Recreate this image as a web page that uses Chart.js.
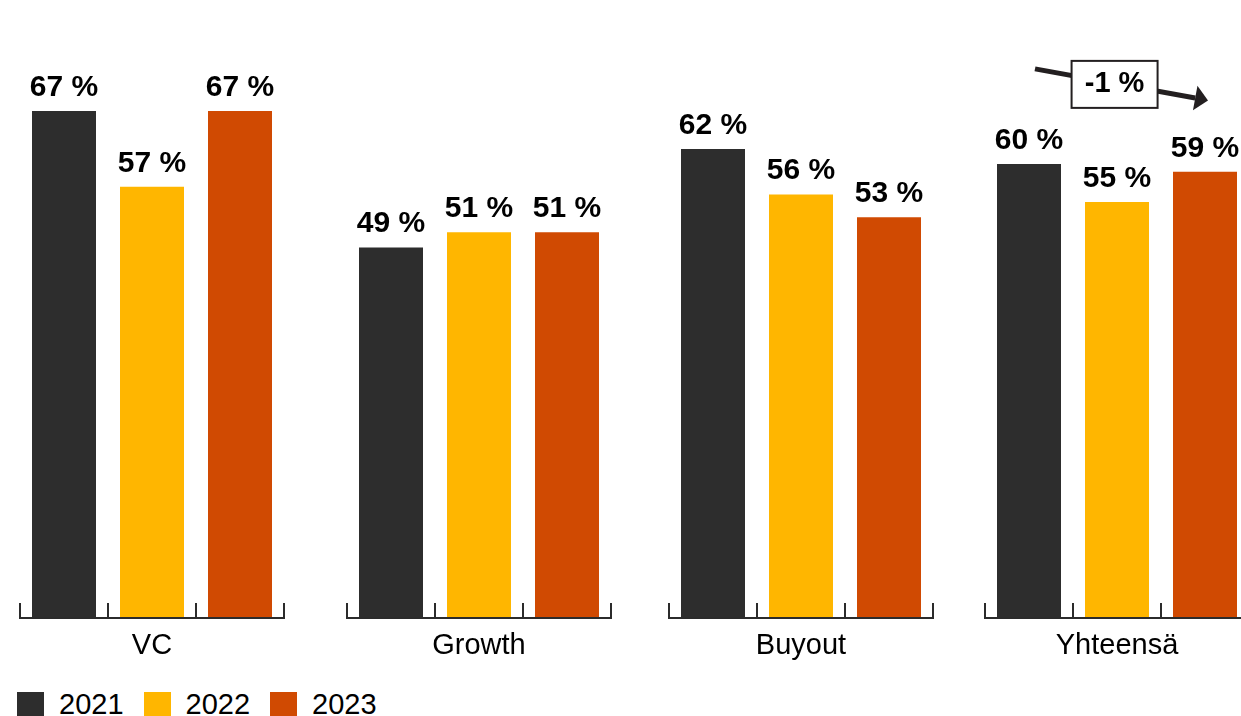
<!DOCTYPE html>
<html lang="fi">
<head>
<meta charset="utf-8">
<title>Osuus 2021–2023</title>
<script src="https://cdn.jsdelivr.net/npm/chart.js@4/dist/chart.umd.min.js"></script>
<style>
  html, body { margin: 0; padding: 0; background: #fff; }
  body { position: relative; width: 1241px; height: 716px; overflow: hidden;
         font-family: 'Liberation Sans', Arial, Helvetica, sans-serif; }
  .group { position: absolute; top: 0; }
  #legend { position: absolute; left: 17px; top: 690px; display: flex; align-items: center;
            font-size: 29px; color: #000; line-height: 1; }
  #legend .item { display: flex; align-items: center; margin-right: 20px; }
  #legend .swatch { width: 27px; height: 25px; margin-right: 15px; }
</style>
</head>
<body>
<div id="charts"></div>
<div id="legend"></div>
<script>
// Fund categories and the yearly shares (%) shown above each bar
const categories = ['VC', 'Growth', 'Buyout', 'Yhteensä'];
const years = ['2021', '2022', '2023'];
const share2021 = [67, 49, 62, 60];
const share2022 = [57, 51, 56, 55];
const share2023 = [67, 51, 53, 59];

const yearColors = ['#2d2d2d', '#ffb600', '#d04a02'];
const groupLeft = [20, 347, 669, 985];   // left edge of each group's axis
const groupWidth = 264;
const pad = 4;
const fontFamily = "'Liberation Sans', Arial, Helvetica, sans-serif";

Chart.defaults.font.family = fontFamily;
Chart.defaults.color = '#000';

// Bar value labels ("67 %")
const valueLabels = {
  id: 'valueLabels',
  afterDatasetsDraw(chart) {
    const ctx = chart.ctx;
    const meta = chart.getDatasetMeta(0);
    const data = chart.data.datasets[0].data;
    ctx.save();
    ctx.font = 'bold 30px ' + fontFamily;
    ctx.fillStyle = '#000';
    ctx.textAlign = 'center';
    ctx.textBaseline = 'alphabetic';
    meta.data.forEach((bar, i) => {
      ctx.fillText(data[i] + ' %', bar.x, bar.y - 15);
    });
    ctx.restore();
  }
};

// Axis line with upward tick marks between bars, and the group name below it
const groupAxis = {
  id: 'groupAxis',
  afterDatasetsDraw(chart, args, opts) {
    const ctx = chart.ctx;
    const x = chart.scales.x;
    const area = chart.chartArea;
    const bottom = area.bottom;
    ctx.save();
    ctx.fillStyle = '#2b2b2b';
    ctx.fillRect(area.left - 1, bottom - 2, area.right - area.left + 2, 2);
    for (let i = 0; i <= chart.data.labels.length; i++) {
      const px = x.getPixelForValue(i - 0.5);
      ctx.fillRect(px - 1, bottom - 16, 2, 16);
    }
    ctx.fillStyle = '#000';
    ctx.font = '29px ' + fontFamily;
    ctx.textAlign = 'center';
    ctx.textBaseline = 'alphabetic';
    ctx.fillText(opts.title, (area.left + area.right) / 2, bottom + 35);
    ctx.restore();
  }
};

// Change arrow from first to last year, with a boxed label
const changeArrow = {
  id: 'changeArrow',
  afterDraw(chart, args, opts) {
    if (!opts || !opts.text) return;
    const ctx = chart.ctx;
    const meta = chart.getDatasetMeta(0);
    const top = chart.chartArea.top;
    const x1 = meta.data[0].x + 6, y1 = top + 56.5;
    const x2 = meta.data[meta.data.length - 1].x + 3, y2 = top + 88;
    const ang = Math.atan2(y2 - y1, x2 - x1);
    const headLen = 13, headHalf = 12.5;
    ctx.save();
    ctx.strokeStyle = '#231f20';
    ctx.fillStyle = '#231f20';
    ctx.lineWidth = 5;
    ctx.beginPath();
    ctx.moveTo(x1, y1);
    ctx.lineTo(x2 - headLen * Math.cos(ang), y2 - headLen * Math.sin(ang));
    ctx.stroke();
    const bx = x2 - headLen * Math.cos(ang), by = y2 - headLen * Math.sin(ang);
    ctx.beginPath();
    ctx.moveTo(x2, y2);
    ctx.lineTo(bx + headHalf * Math.sin(ang), by - headHalf * Math.cos(ang));
    ctx.lineTo(bx - headHalf * Math.sin(ang), by + headHalf * Math.cos(ang));
    ctx.closePath();
    ctx.fill();
    // label box on the line
    const t = 0.46;
    const cx = x1 + (x2 - x1) * t, cy = y1 + (y2 - y1) * t + 1;
    const w = 86, h = 47;
    ctx.fillStyle = '#fff';
    ctx.fillRect(cx - w / 2, cy - h / 2, w, h);
    ctx.lineWidth = 2;
    ctx.strokeStyle = '#231f20';
    ctx.strokeRect(cx - w / 2, cy - h / 2, w, h);
    ctx.fillStyle = '#000';
    ctx.font = 'bold 29px ' + fontFamily;
    ctx.textAlign = 'center';
    ctx.textBaseline = 'middle';
    ctx.fillText(opts.text, cx, cy);
    ctx.restore();
  }
};

const container = document.getElementById('charts');
categories.forEach((cat, g) => {
  const wrap = document.createElement('div');
  wrap.className = 'group';
  wrap.style.left = (groupLeft[g] - pad) + 'px';
  const canvas = document.createElement('canvas');
  canvas.width = groupWidth + 2 * pad;
  canvas.height = 680;
  wrap.appendChild(canvas);
  container.appendChild(wrap);

  const values = [share2021[g], share2022[g], share2023[g]];
  const isTotal = g === categories.length - 1;
  const change = share2023[g] - share2021[g];

  new Chart(canvas, {
    type: 'bar',
    data: {
      labels: years,
      datasets: [{
        data: values,
        backgroundColor: yearColors,
        borderWidth: 0,
        barPercentage: 64 / 88,
        categoryPercentage: 1
      }]
    },
    options: {
      responsive: false,
      animation: false,
      events: [],
      layout: { padding: { left: pad, right: pad, top: 12.4, bottom: 61 } },
      plugins: {
        legend: { display: false },
        tooltip: { enabled: false },
        groupAxis: { title: cat },
        changeArrow: isTotal ? { text: change + ' %' } : {}
      },
      scales: {
        x: { display: false, offset: true },
        y: { display: false, min: 0, max: 80 }
      }
    },
    plugins: [groupAxis, valueLabels, changeArrow]
  });
});

// Year legend
const legend = document.getElementById('legend');
years.forEach((yr, i) => {
  const item = document.createElement('div');
  item.className = 'item';
  const sw = document.createElement('span');
  sw.className = 'swatch';
  sw.style.background = yearColors[i];
  const tx = document.createElement('span');
  tx.textContent = yr;
  item.appendChild(sw);
  item.appendChild(tx);
  legend.appendChild(item);
});
</script>
</body>
</html>
